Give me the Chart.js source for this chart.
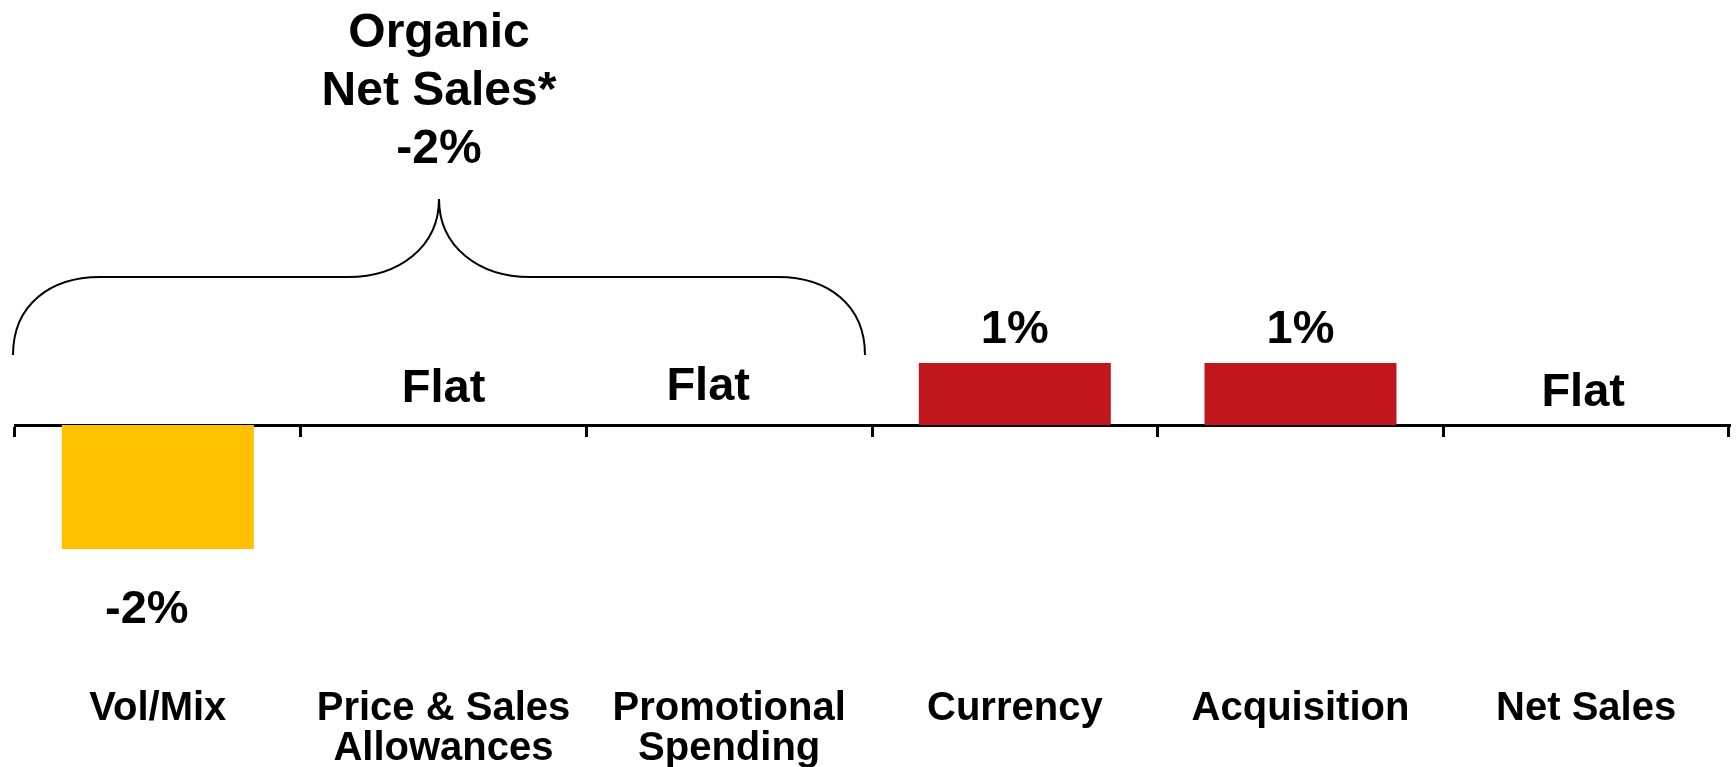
<!DOCTYPE html>
<html>
<head>
<meta charset="utf-8">
<script src="https://cdn.jsdelivr.net/npm/chart.js@4/dist/chart.umd.min.js"></script>
<style>
  html, body { margin: 0; padding: 0; background: #ffffff; }
  #wrap { width: 1736px; height: 767px; }
</style>
</head>
<body>
<div id="wrap"><canvas id="chart" width="1736" height="767"></canvas></div>
<script>
// Net sales change drivers, in percentage points
const categories = [
  'Vol/Mix',
  ['Price & Sales', 'Allowances'],
  ['Promotional', 'Spending'],
  'Currency',
  'Acquisition',
  'Net Sales'
];
const changes = [-2, 0, 0, 1, 1, 0];
const barColors = ['#FFC000', '#C1161D', '#C1161D', '#C1161D', '#C1161D', '#C1161D'];
const organicCount = 3; // first three drivers make up organic net sales
const groupTitle = ['Organic', 'Net Sales*'];

const FONT = '"Liberation Sans", Arial, Helvetica, sans-serif';

function pctText(v) {
  return v === 0 ? 'Flat' : v + '%';
}

// Value labels above / below each bar
const valueLabels = {
  id: 'valueLabels',
  afterDatasetsDraw(chart, args, opts) {
    const ctx = chart.ctx;
    const meta = chart.getDatasetMeta(0);
    const nudge = opts.nudge || {};
    ctx.save();
    ctx.fillStyle = '#000';
    ctx.font = 'bold 47px ' + FONT;
    ctx.textAlign = 'center';
    ctx.textBaseline = 'alphabetic';
    meta.data.forEach((bar, i) => {
      const v = changes[i];
      const [dx, dy] = nudge[i] || [0, 0];
      let y;
      if (v > 0) y = bar.y - 20;
      else if (v < 0) y = bar.y + 74;
      else y = bar.base - 22;
      ctx.fillText(pctText(v), bar.x + dx, y + dy);
    });
    ctx.restore();
  }
};

// Curly brace grouping the organic drivers, with its caption
const organicBrace = {
  id: 'organicBrace',
  afterDraw(chart) {
    const ctx = chart.ctx;
    const xs = chart.scales.x;
    const ys = chart.scales.y;
    const half = (xs.getPixelForValue(1) - xs.getPixelForValue(0)) / 2;
    const left = xs.getPixelForValue(0) - half - 2;
    const right = xs.getPixelForValue(organicCount - 1) + half - 7;
    const mid = (left + right) / 2;
    const zero = ys.getPixelForValue(0);
    const yEnd = zero - 70;
    const yBar = zero - 148;
    const yTip = zero - 226;
    const corner = 87;

    ctx.save();
    ctx.strokeStyle = '#000';
    ctx.lineWidth = 2;
    ctx.beginPath();
    ctx.moveTo(left, yEnd);
    ctx.bezierCurveTo(left, yEnd - 50, left + 37, yBar, left + corner, yBar);
    ctx.lineTo(mid - 91, yBar);
    ctx.bezierCurveTo(mid - 40, yBar, mid, yBar - 30, mid, yTip);
    ctx.bezierCurveTo(mid, yBar - 30, mid + 40, yBar, mid + 91, yBar);
    ctx.lineTo(right - corner, yBar);
    ctx.bezierCurveTo(right - 37, yBar, right, yEnd - 50, right, yEnd);
    ctx.stroke();

    const organic = changes.slice(0, organicCount).reduce((a, b) => a + b, 0);
    const lines = groupTitle.concat([pctText(organic)]);
    ctx.fillStyle = '#000';
    ctx.font = 'bold 48px ' + FONT;
    ctx.textAlign = 'center';
    ctx.textBaseline = 'alphabetic';
    lines.forEach((t, i) => ctx.fillText(t, mid, 47 + i * 58));
    ctx.restore();
  }
};

new Chart(document.getElementById('chart'), {
  type: 'bar',
  data: {
    labels: categories,
    datasets: [{
      data: changes,
      backgroundColor: barColors,
      borderWidth: 0,
      categoryPercentage: 1,
      barPercentage: 0.672
    }]
  },
  options: {
    responsive: false,
    animation: false,
    devicePixelRatio: 1,
    layout: { padding: { left: 15, right: 7, top: 177, bottom: 94 } },
    plugins: {
      legend: { display: false },
      title: { display: false },
      tooltip: { enabled: false },
      valueLabels: {
        // small hand placement tweaks per label: [dx, dy]
        nudge: { 0: [-11, 0], 1: [0, -1], 2: [-21, -3], 5: [-3, 3] }
      }
    },
    scales: {
      x: {
        position: { y: 0 },
        offset: true,
        grid: {
          offset: true,
          drawOnChartArea: false,
          drawTicks: true,
          tickLength: 10,
          color: '#000',
          lineWidth: 3
        },
        border: { display: true, color: '#000', width: 3 },
        ticks: {
          color: '#000',
          autoSkip: false,
          maxRotation: 0,
          padding: 254,
          font: { family: FONT, size: 40, weight: 'bold', lineHeight: 1.0 }
        },
        // the deep label drop should not widen the side margins
        afterFit(scale) {
          scale.paddingLeft = 0;
          scale.paddingRight = 0;
        }
      },
      y: {
        display: false,
        min: -4,
        max: 4
      }
    }
  },
  plugins: [valueLabels, organicBrace]
});
</script>
</body>
</html>
